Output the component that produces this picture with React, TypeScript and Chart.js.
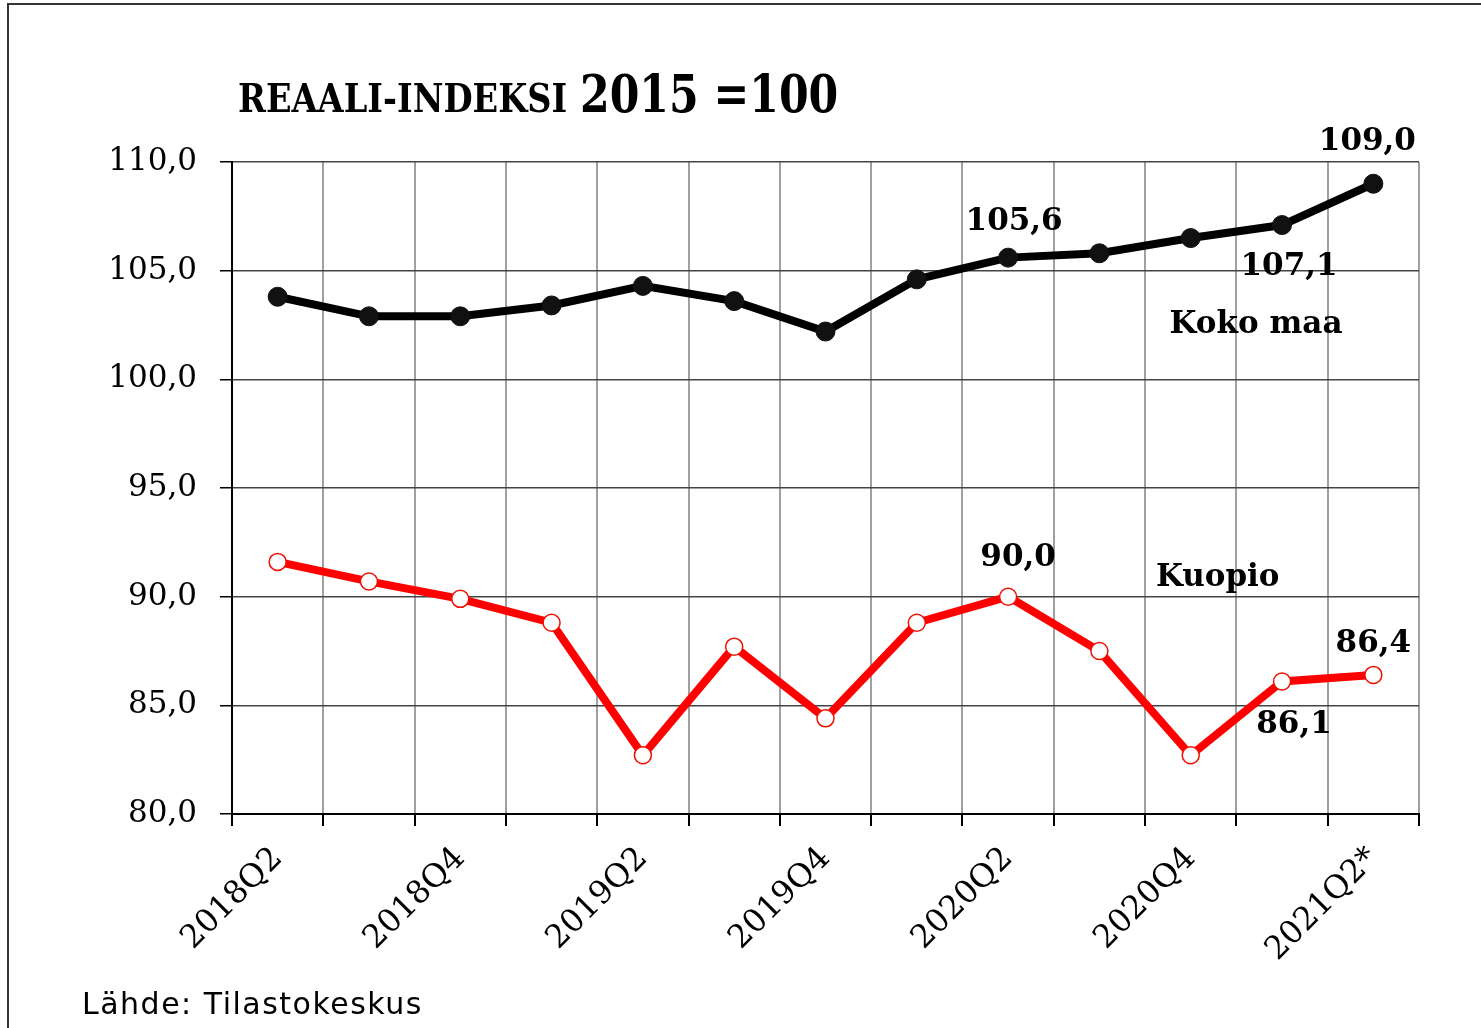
import React, { useEffect, useRef } from "react";
import { Chart, registerables } from "chart.js";

Chart.register(...registerables);

const categories = [
  "2018Q2", "2018Q3", "2018Q4", "2019Q1", "2019Q2", "2019Q3", "2019Q4",
  "2020Q1", "2020Q2", "2020Q3", "2020Q4", "2021Q1", "2021Q2*",
];
const kokoMaa = [103.8, 102.9, 102.9, 103.4, 104.3, 103.6, 102.2, 104.6, 105.6, 105.8, 106.5, 107.1, 109.0];
const kuopio = [91.6, 90.7, 89.9, 88.8, 82.7, 87.7, 84.4, 88.8, 90.0, 87.5, 82.7, 86.1, 86.4];
const yMin = 80;
const yMax = 110;
const yStep = 5;
const titleMain = "REAALI-INDEKSI";
const titleBase = "2015 =100";
const sourceText = "Lähde: Tilastokeskus";
const seriesNames = ["Koko maa", "Kuopio"];

// value labels: dataset index, point index, offsets from the point
const valueLabels = [
  { ds: 0, idx: 8, dx: 6, dy: -36 },
  { ds: 0, idx: 11, dx: 7, dy: 42 },
  { ds: 0, idx: 12, dx: -6, dy: -42 },
  { ds: 1, idx: 8, dx: 10, dy: -39 },
  { ds: 1, idx: 11, dx: 12, dy: 44 },
  { ds: 1, idx: 12, dx: 0, dy: -31 },
];
// series name labels anchored to a point
const nameLabels = [
  { ds: 0, idx: 11, dx: -26, dy: 100, text: seriesNames[0] },
  { ds: 1, idx: 10, dx: 27, dy: -177, text: seriesNames[1] },
];

const fmt = (v: number) => v.toFixed(1).replace(".", ",");

const decorPlugin = {
  id: "decor",
  beforeDraw(chart: any) {
    const ctx = chart.ctx;
    ctx.save();
    ctx.strokeStyle = "#333";
    ctx.lineWidth = 2;
    ctx.beginPath();
    ctx.moveTo(8, 1028);
    ctx.lineTo(8, 4);
    ctx.lineTo(1481, 4);
    ctx.stroke();

    ctx.fillStyle = "#000";
    ctx.textBaseline = "alphabetic";
    ctx.textAlign = "left";
    ctx.save();
    ctx.translate(238, 112);
    ctx.scale(0.84, 1);
    ctx.font = "bold 40px 'DejaVu Serif'";
    ctx.fillText(titleMain, 0, 0);
    ctx.restore();
    ctx.save();
    ctx.translate(580, 112);
    ctx.scale(0.82, 1);
    ctx.font = "bold 52px 'DejaVu Serif'";
    ctx.fillText(titleBase, 0, 0);
    ctx.restore();

    ctx.font = "30px 'DejaVu Sans'";
    (ctx as any).letterSpacing = "1.5px";
    ctx.fillText(sourceText, 82, 1014);
    (ctx as any).letterSpacing = "0px";
    ctx.restore();
  },
  afterDatasetsDraw(chart: any) {
    const ctx = chart.ctx;
    ctx.save();
    ctx.fillStyle = "#000";
    ctx.textAlign = "center";
    ctx.textBaseline = "middle";
    ctx.font = "bold 31px 'DejaVu Serif'";
    for (const l of valueLabels) {
      const el = chart.getDatasetMeta(l.ds).data[l.idx];
      const v = chart.data.datasets[l.ds].data[l.idx];
      ctx.fillText(fmt(v), el.x + l.dx, el.y + l.dy);
    }
    for (const l of nameLabels) {
      const el = chart.getDatasetMeta(l.ds).data[l.idx];
      ctx.fillText(l.text, el.x + l.dx, el.y + l.dy);
    }
    ctx.restore();
  },
};

export default function App() {
  const ref = useRef<HTMLCanvasElement | null>(null);
  useEffect(() => {
    if (!ref.current) return;
    const chart = new Chart(ref.current, {
      type: "line",
      data: {
        labels: categories,
        datasets: [
          {
            label: seriesNames[0],
            data: kokoMaa,
            borderColor: "#000",
            borderWidth: 8,
            pointRadius: 9.5,
            pointBackgroundColor: "#111",
            pointBorderColor: "#111",
            pointBorderWidth: 1,
            tension: 0,
          },
          {
            label: seriesNames[1],
            data: kuopio,
            borderColor: "#ff0000",
            borderWidth: 8,
            pointRadius: 8.5,
            pointBackgroundColor: "#fff",
            pointBorderColor: "#f01000",
            pointBorderWidth: 1.5,
            tension: 0,
          },
        ],
      },
      options: {
        animation: false,
        responsive: false,
        devicePixelRatio: 1,
        layout: { padding: { left: 0, right: 62, top: 162, bottom: 0 } },
        plugins: {
          legend: { display: false },
          title: { display: false },
          tooltip: { enabled: false },
        },
        scales: {
          x: {
            offset: true,
            grid: {
              offset: true,
              color: (c: any) => (c.index === categories.length ? "#888" : "#a0a0a0"),
              lineWidth: (c: any) => (c.index === categories.length ? 3 : 2),
              tickColor: "#000",
              tickLength: 12,
              drawTicks: true,
            },
            border: { color: "#000", width: 2 },
            ticks: {
              autoSkip: false,
              maxRotation: 45,
              minRotation: 45,
              padding: 14,
              color: "#000",
              font: { family: "'DejaVu Serif'", size: 32 },
              callback: (_v: any, i: number) => (i % 2 === 0 ? categories[i] : ""),
            },
            afterFit: (s: any) => {
              s.height = 214;
            },
          },
          y: {
            min: yMin,
            max: yMax,
            grid: {
              color: "#444",
              lineWidth: 1.5,
              tickColor: "#000",
              tickLength: 12,
            },
            border: { color: "#000", width: 2 },
            ticks: {
              stepSize: yStep,
              padding: 23,
              color: "#000",
              font: { family: "'DejaVu Serif'", size: 31 },
              callback: (v: any) => fmt(Number(v)),
            },
            afterFit: (s: any) => {
              s.width = 232;
            },
          },
        },
      },
      plugins: [decorPlugin],
    });
    return () => chart.destroy();
  }, []);
  return (
    <div style={{ position: "absolute", left: 0, top: 0, width: 1481, height: 1028 }}>
      <canvas ref={ref} width={1481} height={1028} style={{ display: "block" }} />
    </div>
  );
}
